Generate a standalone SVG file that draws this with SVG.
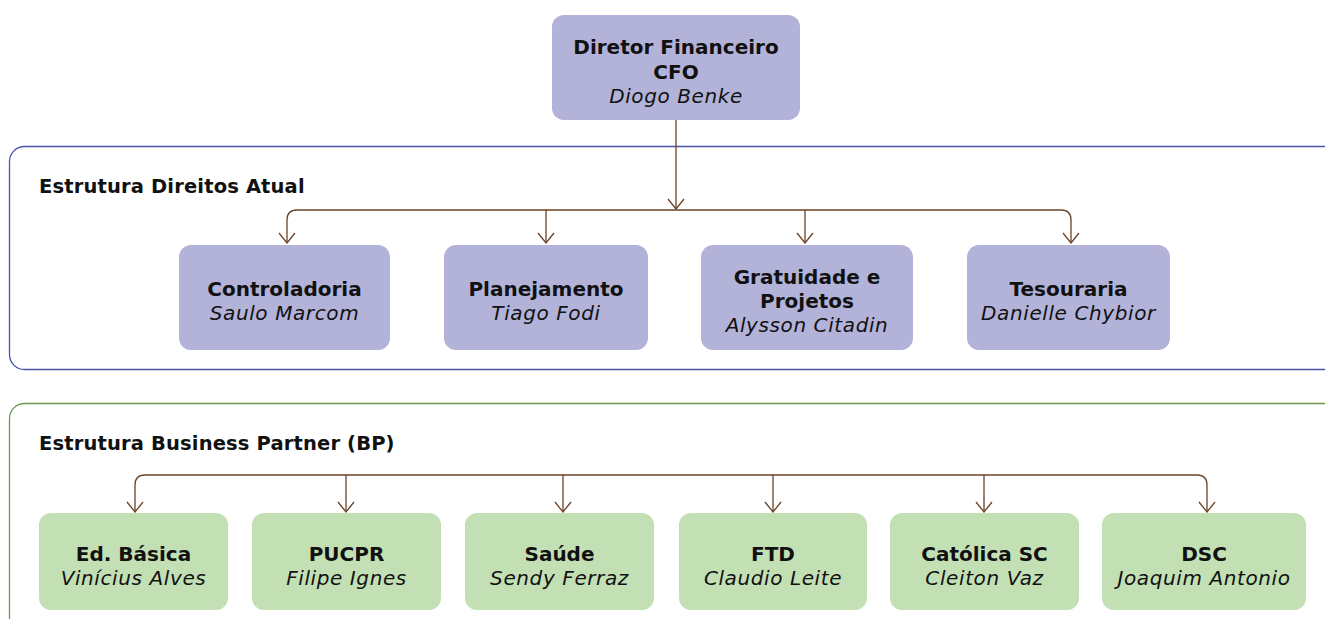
<svg xmlns="http://www.w3.org/2000/svg" width="1325" height="619" viewBox="0 0 1325 619">
<defs>
<style>
.t{font-family:"DejaVu Sans","Liberation Sans",sans-serif;font-size:20px;font-weight:bold;fill:#111;text-anchor:middle}
.n{font-family:"DejaVu Sans","Liberation Sans",sans-serif;font-size:20px;font-style:italic;fill:#111;text-anchor:middle;letter-spacing:0.6px}
.h{font-family:"DejaVu Sans","Liberation Sans",sans-serif;font-size:19.5px;font-weight:bold;fill:#111;letter-spacing:0.15px}
.bb{fill:#b3b3d9}
.gb{fill:#c3e0b5}
.c{fill:none;stroke:#6b4226;stroke-width:1.3}
</style>
<marker id="ar" markerWidth="12" markerHeight="18" refX="11" refY="9" orient="auto" markerUnits="userSpaceOnUse" viewBox="0 0 12 18">
<path d="M1,1 L11,9 L1,17" fill="none" stroke="#6b4226" stroke-width="1.3"/>
</marker>
</defs>
<rect width="1325" height="619" fill="#fff"/>
<g id="group-direitos">
<rect x="9.5" y="146.5" width="1335" height="223" rx="15" fill="none" stroke="#4a55a8" stroke-width="1.3"/>
<text class="h" x="39" y="193">Estrutura Direitos Atual</text>
</g>
<g id="group-bp">
<rect x="9.5" y="403.5" width="1335" height="240" rx="15" fill="none" stroke="#6a9a4a" stroke-width="1.3"/>
<text class="h" x="39" y="450">Estrutura Business Partner (BP)</text>
</g>
<g id="connectors">
<path class="c" d="M676,120 V209" marker-end="url(#ar)"/>
<path class="c" d="M297,210 H1061"/>
<path class="c" d="M297,210 Q287,210 287,220 V243" marker-end="url(#ar)"/>
<path class="c" d="M546,210 V243" marker-end="url(#ar)"/>
<path class="c" d="M805,210 V243" marker-end="url(#ar)"/>
<path class="c" d="M1061,210 Q1071,210 1071,220 V243" marker-end="url(#ar)"/>
<path class="c" d="M145,475 H1197"/>
<path class="c" d="M145,475 Q135,475 135,485 V512" marker-end="url(#ar)"/>
<path class="c" d="M346,475 V512" marker-end="url(#ar)"/>
<path class="c" d="M563,475 V512" marker-end="url(#ar)"/>
<path class="c" d="M773,475 V512" marker-end="url(#ar)"/>
<path class="c" d="M984,475 V512" marker-end="url(#ar)"/>
<path class="c" d="M1197,475 Q1207,475 1207,485 V512" marker-end="url(#ar)"/>
</g>
<g id="cfo">
<rect class="bb" x="552" y="15" width="248" height="105" rx="12"/>
<text class="t" x="676" y="54">Diretor Financeiro</text>
<text class="t" x="676" y="79">CFO</text>
<text class="n" x="676" y="103">Diogo Benke</text>
</g>
<g id="controladoria">
<rect class="bb" x="179" y="245" width="211" height="105" rx="12"/>
<text class="t" x="284.5" y="296">Controladoria</text>
<text class="n" x="284.5" y="320">Saulo Marcom</text>
</g>
<g id="planejamento">
<rect class="bb" x="444" y="245" width="204" height="105" rx="12"/>
<text class="t" x="546" y="296">Planejamento</text>
<text class="n" x="546" y="320">Tiago Fodi</text>
</g>
<g id="gratuidade">
<rect class="bb" x="701" y="245" width="212" height="105" rx="12"/>
<text class="t" x="807" y="284">Gratuidade e</text>
<text class="t" x="807" y="308">Projetos</text>
<text class="n" x="807" y="332">Alysson Citadin</text>
</g>
<g id="tesouraria">
<rect class="bb" x="967" y="245" width="203" height="105" rx="12"/>
<text class="t" x="1068.5" y="296">Tesouraria</text>
<text class="n" x="1068.5" y="320">Danielle Chybior</text>
</g>
<g id="ed-basica">
<rect class="gb" x="39" y="513" width="189" height="97" rx="12"/>
<text class="t" x="133.5" y="561">Ed. Básica</text>
<text class="n" x="133.5" y="585">Vinícius Alves</text>
</g>
<g id="pucpr">
<rect class="gb" x="252" y="513" width="189" height="97" rx="12"/>
<text class="t" x="346.5" y="561">PUCPR</text>
<text class="n" x="346.5" y="585">Filipe Ignes</text>
</g>
<g id="saude">
<rect class="gb" x="465" y="513" width="189" height="97" rx="12"/>
<text class="t" x="559.5" y="561">Saúde</text>
<text class="n" x="559.5" y="585">Sendy Ferraz</text>
</g>
<g id="ftd">
<rect class="gb" x="679" y="513" width="188" height="97" rx="12"/>
<text class="t" x="773" y="561">FTD</text>
<text class="n" x="773" y="585">Claudio Leite</text>
</g>
<g id="catolica-sc">
<rect class="gb" x="890" y="513" width="189" height="97" rx="12"/>
<text class="t" x="984.5" y="561">Católica SC</text>
<text class="n" x="984.5" y="585">Cleiton Vaz</text>
</g>
<g id="dsc">
<rect class="gb" x="1102" y="513" width="204" height="97" rx="12"/>
<text class="t" x="1204" y="561">DSC</text>
<text class="n" x="1204" y="585">Joaquim Antonio</text>
</g>
</svg>
